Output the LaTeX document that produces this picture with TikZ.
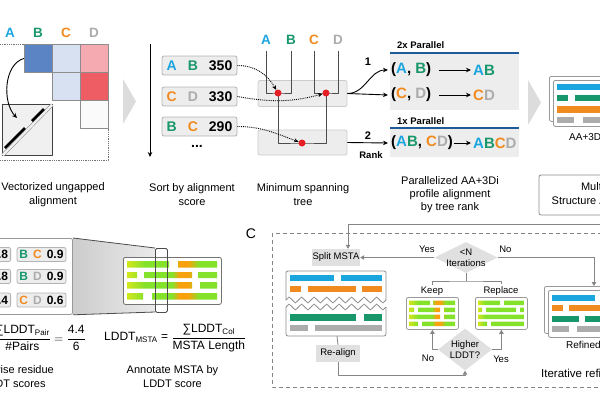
\documentclass[tikz,border=0pt]{standalone}
\usepackage{fontspec}
\setmainfont{Liberation Sans}
\usetikzlibrary{shapes.geometric,arrows.meta,positioning,calc,decorations.pathmorphing}

% sequence colours
\definecolor{seqA}{HTML}{1BA5DF}
\definecolor{seqB}{HTML}{17976A}
\definecolor{seqC}{HTML}{F18B1F}
\definecolor{seqD}{HTML}{ACACAC}
% boxes and lines
\definecolor{boxgray}{HTML}{EDEDED}
\definecolor{rimgray}{HTML}{B4B4B4}
\definecolor{wiregray}{HTML}{858585}
\definecolor{stepgray}{HTML}{E0E0E0}
\definecolor{chevgray}{HTML}{DCDCDC}
\definecolor{rankblue}{HTML}{1D5A9C}
\definecolor{dotred}{HTML}{E61E25}
% distance matrix
\definecolor{cellblue}{HTML}{5A84C4}
\definecolor{cellpale}{HTML}{D7E1F1}
\definecolor{cellpink}{HTML}{F4AAB0}
\definecolor{cellred}{HTML}{EE5D64}
% LDDT heat colours
\definecolor{lddtgreen}{HTML}{84E22B}
\definecolor{lddtyellow}{HTML}{D2E61C}
\definecolor{lddtorange}{HTML}{F7A20C}

\newcommand{\seqa}{\textcolor{seqA}{A}}
\newcommand{\seqb}{\textcolor{seqB}{B}}
\newcommand{\seqc}{\textcolor{seqC}{C}}
\newcommand{\seqd}{\textcolor{seqD}{D}}

\pgfdeclarehorizontalshading{lddtlow}{100bp}{color(0bp)=(lddtyellow); color(25bp)=(lddtyellow); color(35bp)=(lddtgreen); color(50bp)=(lddtgreen); color(54bp)=(lddtorange); color(59bp)=(lddtorange); color(65bp)=(lddtgreen); color(100bp)=(lddtgreen)}
\pgfdeclarehorizontalshading{lddthigh}{100bp}{color(0bp)=(lddtyellow); color(25bp)=(lddtyellow); color(33bp)=(lddtgreen); color(100bp)=(lddtgreen)}

\begin{document}
\begin{tikzpicture}[x=1pt, y=-1pt, line join=round,
    capt/.style={font=\fontsize{11}{14}\selectfont, align=center, inner sep=0},
    seqletter/.style={font=\fontsize{13.5}{15}\selectfont\bfseries, inner sep=0},
    pairbox/.style={draw=rimgray, fill=boxgray, rounded corners=2pt, line width=0.8pt, minimum width=75, minimum height=19, inner sep=0, font=\fontsize{14}{16}\selectfont\bfseries},
    smallpair/.style={pairbox, minimum width=49, minimum height=14, font=\fontsize{12}{14}\selectfont\bfseries},
    mergebox/.style={draw=rimgray!70, fill=boxgray, rounded corners=2pt, line width=0.8pt, minimum width=89, minimum height=26, inner sep=0},
    heatcell/.style={draw=black!45, line width=0.8pt, minimum size=28, inner sep=0, anchor=north west},
    branch/.style={draw=black!70, line width=1pt},
    joint/.style={circle, fill=dotred, inner sep=0, minimum size=7},
    hint/.style={densely dotted, line width=0.9pt, -{Stealth[length=4.5pt, width=4pt]}},
    feed/.style={line width=0.9pt, -{Stealth[length=5pt, width=4.5pt]}},
    profile/.style={font=\fontsize{15}{17}\selectfont\bfseries, inner sep=0, anchor=west},
    tier/.style={font=\fontsize{9.5}{11}\selectfont\bfseries, inner sep=0, anchor=west},
    ranknum/.style={font=\fontsize{11}{13}\selectfont\bfseries, inner sep=0},
    stepnode/.style={fill=stepgray, inner sep=0, minimum height=17, font=\fontsize{9.5}{11}\selectfont},
    decision/.style={diamond, fill=stepgray, inner sep=0},
    steplabel/.style={font=\fontsize{9.5}{11}\selectfont, inner sep=0},
    flow/.style={draw=wiregray, line width=0.8pt, -{Triangle[length=4pt, width=4.5pt]}},
    wire/.style={draw=wiregray, line width=0.8pt},
    card/.style={draw=black!40, fill=white, rounded corners=2pt, line width=0.8pt, inner sep=0, anchor=north west},
    jag/.style={draw=black!45, line width=0.8pt, decorate, decoration={zigzag, segment length=12.5pt, amplitude=3pt}},
]
\useasboundingbox (0,0) rectangle (600,400);
\clip (0,0) rectangle (600,400);

% Vectorized ungapped alignment
\foreach \s/\x/\n in {\seqa/10/a, \seqb/38/b, \seqc/66/c, \seqd/94/d}
  \node[seqletter] (vec\n) at (\x,33) {\s};
\draw[densely dotted, black!55, line width=0.8pt] (0,44) -- (24,44);
\draw[densely dotted, black!55, line width=0.8pt] (0,160) -- (108,160) -- (108,128);
\node[heatcell, fill=cellblue] (cellab) at (24,44) {};
\node[heatcell, fill=cellpale] (cellac) at (52,44) {};
\node[heatcell, fill=cellpink] (cellad) at (80,44) {};
\node[heatcell, fill=cellpale] (cellbc) at (52,72) {};
\node[heatcell, fill=cellred] (cellbd) at (80,72) {};
\node[heatcell, fill=black!2] (cellcd) at (80,100) {};
\node[draw=black!75, fill=black!6, line width=0.9pt, minimum width=50, minimum height=51, inner sep=0, anchor=north west] (zoombox) at (2,104) {};
\draw[black!50, line width=0.5pt, double=black!6, double distance=2.4pt, shorten <=1pt, shorten >=1pt] (zoombox.south west) -- (zoombox.north east);
\draw[line width=2.6pt] (5,148) -- (25,128);
\draw[line width=2.6pt] (32,121) -- (44,109);
\coordinate (zoomtip) at (17,118);
\draw[feed] (cellab.west) .. controls (4,64) and (2,102) .. (zoomtip);
\node[capt] (capvec) at (53,195) {Vectorized ungapped\\alignment};

\fill[chevgray] (123,79) -- (136,101.5) -- (123,124) -- cycle;

% Sort by alignment score
\coordinate (sorttop) at (150,44);
\coordinate (sortend) at (150,157);
\draw[feed] (sorttop) -- (sortend);
\node[pairbox] (pairab) at (199.5,65.5) {\seqa\hspace{11pt}\seqb\hspace{11pt}350};
\node[pairbox] (paircd) at (199.5,96.5) {\seqc\hspace{11pt}\seqd\hspace{11pt}330};
\node[pairbox] (pairbc) at (199.5,126.5) {\seqb\hspace{11pt}\seqc\hspace{11pt}290};
\node[font=\fontsize{14}{16}\selectfont\bfseries, inner sep=0] (pairmore) at (197,146) {...};
\node[capt] (capsort) at (192,195) {Sort by alignment\\score};

% Minimum spanning tree
\foreach \s/\x/\n in {\seqa/266/a, \seqb/291/b, \seqc/314/c, \seqd/338/d}
  \node[seqletter] (mst\n) at (\x,40) {\s};
\node[mergebox] (mergeone) at (302.5,93.5) {};
\node[mergebox, minimum height=25] (mergetwo) at (302.5,142.5) {};
\coordinate (jab) at (278,93);
\coordinate (jcd) at (326,93);
\coordinate (jall) at (302,143);
\draw[branch] ([yshift=-6pt]msta.south) |- (jab) -| ([yshift=-6pt]mstb.south);
\draw[branch] ([yshift=-6pt]mstc.south) |- (jcd) -| ([yshift=-6pt]mstd.south);
\draw[branch] (jab) |- (jall) -| (jcd);
\node[joint] (dotab) at (jab) {};
\node[joint] (dotcd) at (jcd) {};
\node[joint] (dotall) at (jall) {};
\draw[hint] (pairab.east) to[out=0, in=120] (dotab);
\draw[hint] (paircd.east) to[out=-10, in=195] (dotcd);
\draw[hint] (pairbc.east) to[out=0, in=160] (dotall);
\node[capt] (capmst) at (303,195) {Minimum spanning\\tree};

% Parallel profile alignment
\fill[boxgray] (390,53) rectangle (519,110);
\draw[rankblue, line width=2pt] (390,53) -- (519,53);
\fill[boxgray] (390,128) rectangle (519,157);
\draw[rankblue, line width=2pt] (390,128) -- (519,128);
\node[tier] (tiertwo) at (397,45) {2x Parallel};
\node[tier] (tierone) at (397,121) {1x Parallel};
\node[profile] (rowab) at (391,70) {(\seqa, \seqb)};
\node[profile] (outab) at (473,70) {\seqa\seqb};
\node[profile] (rowcd) at (391,95) {(\seqc, \seqd)};
\node[profile] (outcd) at (473,95) {\seqc\seqd};
\node[profile] (rowall) at (391,143) {(\seqa\seqb, \seqc\seqd)};
\node[profile] (outall) at (473,143) {\seqa\seqb\seqc\seqd};
\draw[feed, shorten <=8pt, shorten >=2pt] (rowab) -- (outab);
\draw[feed, shorten <=8pt, shorten >=2pt] (rowcd) -- (outcd);
\draw[feed, shorten <=0.5pt, shorten >=2pt] (rowall) -- (outall);

% tree rank -> parallel rounds
\draw[feed] (mergeone.east) to[out=0, in=180] ([xshift=-3pt]rowab.west);
\draw[feed] (mergeone.east) -- ([xshift=-3pt]rowcd.west);
\draw[feed] (mergetwo.east) -- ([xshift=-3pt]rowall.west);
\node[ranknum] (rankone) at (368,62) {1};
\node[ranknum] (ranktwo) at (368,136) {2};
\node[tier, anchor=center] (ranklabel) at (371,155.5) {Rank};
\node[capt, font=\fontsize{11}{13}\selectfont] (capprof) at (450,195) {Parallelized AA+3Di\\profile alignment\\by tree rank};

\fill[chevgray] (528,80) -- (541,102.5) -- (528,125) -- cycle;

% MSTA output
\node[card, minimum width=92, minimum height=45] (msaback) at (549,76) {};
\node[card, minimum width=92, minimum height=46] (msafront) at (553,80) {};
\fill[seqA] (557,84) rectangle (630,90);
\fill[seqB] (557,95) rectangle (568,101);
\fill[seqB] (575,95) rectangle (630,101);
\fill[seqC] (557,106) rectangle (630,112.5);
\fill[seqD] (557,117) rectangle (574,123);
\fill[seqD] (583,117) rectangle (630,123);
\node[steplabel, font=\fontsize{10}{12}\selectfont, anchor=west] (msalabel) at (569,137) {AA+3Di MSTA};
\node[capt, draw=black!45, rounded corners=2pt, line width=0.8pt, minimum width=122, minimum height=40] (msabox) at (600,195) {Multiple\\Structure Alignment};

% Pairwise LDDT
\coordinate (colnw) at (155,248);
\coordinate (colsw) at (155,312);
\node[card, anchor=north east, minimum width=100, minimum height=76] (pairpanel) at (73,238) {};
\shade[left color=black!20, right color=black!8] (pairpanel.north east) -- (colnw) -- (colsw) -- (pairpanel.south east) -- cycle;
\draw[black!70, line width=0.8pt] (pairpanel.north east) -- (colnw);
\draw[black!70, line width=0.8pt] (pairpanel.south east) -- (colsw);
\node[smallpair, anchor=east] (pairabs) at (11,254.5) {\seqa\hspace{5pt}\seqb\hspace{5pt}0.8};
\node[smallpair] (pairbcs) at (41.5,254.5) {\seqb\hspace{5pt}\seqc\hspace{5pt}0.9};
\node[smallpair, anchor=east] (pairacs) at (11,276.5) {\seqa\hspace{5pt}\seqc\hspace{5pt}0.8};
\node[smallpair] (pairbds) at (41.5,276.5) {\seqb\hspace{5pt}\seqd\hspace{5pt}0.9};
\node[smallpair, anchor=east] (pairads) at (11,300) {\seqa\hspace{5pt}\seqd\hspace{5pt}0.4};
\node[smallpair] (paircds) at (41.5,300) {\seqc\hspace{5pt}\seqd\hspace{5pt}0.6};
\node[font=\fontsize{12}{14}\selectfont, inner sep=0, anchor=east] (pairform) at (86,338) {$\displaystyle\frac{\mbox{∑LDDT\textsubscript{Pair}}}{\mbox{\#Pairs}} = \frac{\mbox{4.4}}{\mbox{6}}$};
\node[capt] (cappair) at (13.5,376.5) {Pairwise residue\\LDDT scores};

% Annotated MSTA
\node[card, draw=black!55, minimum width=98, minimum height=47] (lddtpanel) at (123,257) {};
\begin{scope}
  \clip (127,261) rectangle (169,267.5) (178,261) rectangle (217,267.5)
        (127,272) rectangle (137,278) (144,272) rectangle (192,278) (198,272) rectangle (217,278)
        (127,282) rectangle (192,288.5) (200,282) rectangle (217,288.5)
        (127,293) rectangle (143,299.5) (152,293) rectangle (217,299.5);
  \shade[shading=lddtlow] (127,261) rectangle (217,299.5);
\end{scope}
\node[draw=black!70, line width=0.8pt, rounded corners=1.5pt, minimum width=12, minimum height=64, inner sep=0, anchor=north west] (colsel) at (colnw) {};
\node[font=\fontsize{12}{14}\selectfont, inner sep=0, anchor=west] (msaform) at (104,338) {LDDT\textsubscript{MSTA} = $\displaystyle\frac{\mbox{∑LDDT\textsubscript{Col}}}{\mbox{MSTA Length}}$};
\node[capt] (capannot) at (172.5,377) {Annotate MSTA by\\LDDT score};

% C: iterative refinement
\node[font=\fontsize{14}{16}\selectfont, inner sep=0] (panelc) at (251,234) {C};
\draw[wiregray, dash pattern=on 4pt off 3pt, line width=0.8pt] (272,233) rectangle (640,387);
\node[stepnode, minimum width=48] (split) at (336,257.5) {Split MSTA};
\coordinate (feedturn) at (348,224);
\draw[flow] (msabox.south) |- (feedturn) -- (feedturn |- split.north);

\draw[black!45, line width=0.8pt, rounded corners=2pt] (286,300) -- (286,271) -- (386,271) -- (386,300);
\draw[jag] (286,300) -- (386,300);
\draw[black!45, line width=0.8pt, rounded corners=2pt] (286,307) -- (286,336) -- (386,336) -- (386,307);
\draw[jag] (286,307) -- (386,307);
\fill[seqA] (290,274.5) rectangle (334,281);
\fill[seqA] (341,274.5) rectangle (382,281);
\fill[seqC] (290,285.5) rectangle (301,292);
\fill[seqC] (308,285.5) rectangle (356,292);
\fill[seqC] (362,285.5) rectangle (382,292);
\fill[seqB] (290,314) rectangle (356,321);
\fill[seqB] (364,314) rectangle (382,321);
\fill[seqD] (290,324.5) rectangle (308,331);
\fill[seqD] (315,324.5) rectangle (382,331);
\coordinate (splitbase) at (337,336);
\node[stepnode, minimum width=44] (realign) at (338,353.5) {Re-align};
\draw[wire] (splitbase) -- (realign.north);

\node[decision, minimum width=63, minimum height=31, label={[steplabel, align=center]center:{<N\\Iterations}}] (iterate) at (466,257.5) {};
\coordinate (refinedin) at (594,286);
\draw[flow] (iterate.west) -- (split.east) node[steplabel, pos=0.1, above=5pt] (yessplit) {Yes};
\draw[flow] (iterate.east) -| (refinedin) node[steplabel, pos=0.04, above=5pt] (noiter) {No};

\coordinate (forkmid) at (466,281);
\node[steplabel] (keeptag) at (432,291) {Keep};
\node[steplabel] (repltag) at (501,291) {Replace};
\draw[wire] (iterate.south) -- (forkmid);
\draw[wire] ([yshift=2pt]keeptag.north) |- (forkmid) -| ([yshift=2pt]repltag.north);

\node[card, minimum width=52, minimum height=32] (keepbox) at (406,297) {};
\node[card, minimum width=52, minimum height=32] (replbox) at (475,297) {};
\begin{scope}
  \clip (409,300.5) rectangle (430,305) (433,300.5) rectangle (455,305)
        (409,307.5) rectangle (414,312) (418,307.5) rectangle (440,312) (444,307.5) rectangle (455,312)
        (409,314.5) rectangle (440,319) (444,314.5) rectangle (455,319)
        (409,321.5) rectangle (418,326) (422,321.5) rectangle (455,326);
  \shade[shading=lddtlow] (409,300.5) rectangle (455,326);
\end{scope}
\begin{scope}
  \clip (478,300.5) rectangle (500,305) (504,300.5) rectangle (524,305)
        (478,307.5) rectangle (482,312) (486,307.5) rectangle (516,312) (520,307.5) rectangle (524,312)
        (478,314.5) rectangle (524,319)
        (478,321.5) rectangle (487,326) (491,321.5) rectangle (524,326);
  \shade[shading=lddthigh] (478,300.5) rectangle (524,326);
\end{scope}

\node[decision, minimum width=54, minimum height=42, label={[steplabel, align=center]center:{Higher\\LDDT?}}] (higher) at (465,349.5) {};
\draw[flow] (higher.west) -| (keepbox.south);
\draw[flow] (higher.east) -| (replbox.south);
\node[steplabel] (nokeep) at (428,358) {No};
\node[steplabel] (yesrepl) at (501,359) {Yes};
\coordinate (loopline) at (0,375);
\draw[flow] (realign.south) |- (higher.south |- loopline) -- (higher.south);

% refined output
\node[card, minimum width=90, minimum height=47] (refinedback) at (544,286) {};
\node[card, minimum width=90, minimum height=47] (refinedfront) at (548,290) {};
\fill[seqA] (552,295) rectangle (595,301);
\fill[seqC] (552,305) rectangle (563,311);
\fill[seqC] (569,305) rectangle (640,311);
\fill[seqB] (552,315.5) rectangle (579,322);
\fill[seqB] (585,315.5) rectangle (640,322);
\fill[seqD] (552,326) rectangle (569,332);
\fill[seqD] (577,326) rectangle (640,332);
\node[steplabel, font=\fontsize{10}{12}\selectfont, anchor=west] (refinedtag) at (566,345) {Refined MSTA};
\node[capt, font=\fontsize{11.5}{14}\selectfont, anchor=west] (capiter) at (541,373) {Iterative refinement};
\end{tikzpicture}
\end{document}
